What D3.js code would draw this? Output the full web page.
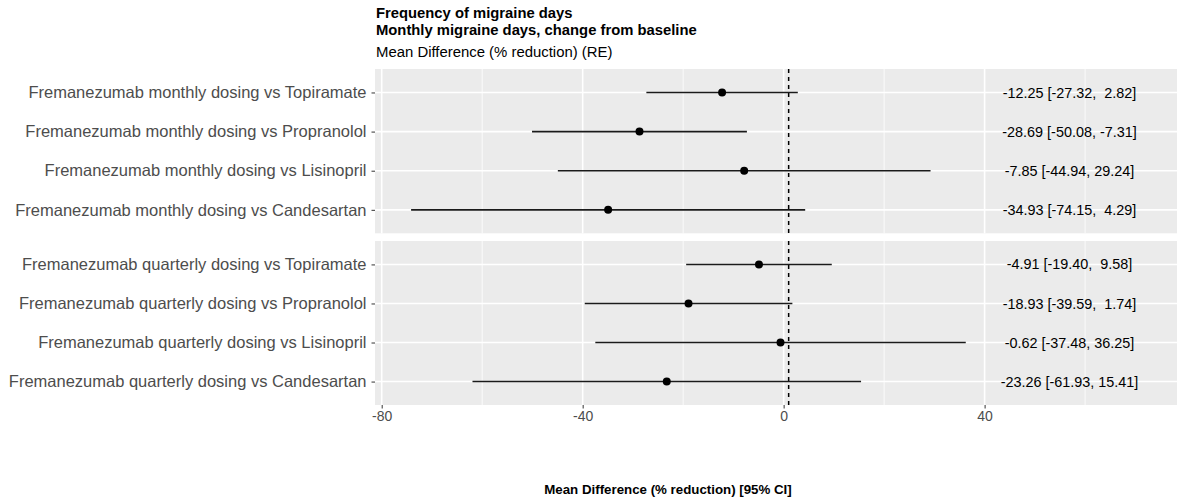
<!DOCTYPE html>
<html>
<head>
<meta charset="utf-8">
<script src="https://cdn.jsdelivr.net/npm/d3@7"></script>
<style>
	body { margin: 0; background: #fff; }
	svg { font-family: "Liberation Sans", Arial, sans-serif; }
</style>
</head>
<body>
<div id="chart"></div>
<script>
var dosing = ["monthly", "quarterly"];
var comparators = ["Topiramate", "Propranolol", "Lisinopril", "Candesartan"];

// one value per row, monthly rows first then quarterly
var meanDiff = [-12.25, -28.69, -7.85, -34.93, -4.91, -18.93, -0.62, -23.26];
var lower = [-27.32, -50.08, -44.94, -74.15, -19.40, -39.59, -37.48, -61.93];
var upper = [2.82, -7.31, 29.24, 4.29, 9.58, 1.74, 36.25, 15.41];

var xTicks = [-80, -40, 0, 40];
var xMinor = [-60, -20, 20, 60];
var refValue = 1;

var titles = ["Frequency of migraine days", "Monthly migraine days, change from baseline"];
var subtitle = "Mean Difference (% reduction) (RE)";
var xTitle = "Mean Difference (% reduction) [95% CI]";

var width = 1177,
	height = 502;

var svg = d3.select("#chart").append("svg")
	.attr("width", width)
	.attr("height", height);

var panelLeft = 375,
	panelRight = 1177;
var panels = [
	{ key: "monthly", top: 69, bottom: 233.3 },
	{ key: "quarterly", top: 241, bottom: 405 }
];

var xScale = d3.scaleLinear().domain([-80, 40]).range([381.7, 984.6]);
var textX = xScale(56.9);

// plain hyphen minus like R prints it
function fmt(v) { return v.toFixed(2); }

var rows = [];
dosing.forEach(function(dose, di) {
	comparators.forEach(function(comp, ci) {
		var i = di * comparators.length + ci;
		rows.push({
			dose: dose,
			label: "Fremanezumab " + dose + " dosing vs " + comp,
			mean: meanDiff[i],
			lo: lower[i],
			hi: upper[i],
			text: fmt(meanDiff[i]) + " [" + fmt(lower[i]) + ", " + fmt(upper[i]).padStart(5, " ") + "]"
		});
	});
});

// titles
svg.selectAll(".title")
	.data(titles)
	.enter()
	.append("text")
	.attr("class", "title")
	.attr("x", 376)
	.attr("y", function(d, i) { return 18 + i * 16.5; })
	.style("font-size", "14.8px")
	.style("font-weight", "bold")
	.text(function(d) { return d; });

svg.append("text")
	.attr("x", 376)
	.attr("y", 57)
	.style("font-size", "14.9px")
	.text(subtitle);

panels.forEach(function(p) {
	var pr = rows.filter(function(r) { return r.dose === p.key; });
	var yScale = d3.scalePoint()
		.domain(pr.map(function(r) { return r.label; }))
		.range([p.top, p.bottom])
		.padding(0.6);

	var g = svg.append("g");

	g.append("rect")
		.attr("x", panelLeft)
		.attr("y", p.top)
		.attr("width", panelRight - panelLeft)
		.attr("height", p.bottom - p.top)
		.attr("fill", "#ebebeb");

	g.selectAll(".minor")
		.data(xMinor)
		.enter()
		.append("line")
		.attr("x1", function(d) { return xScale(d); })
		.attr("x2", function(d) { return xScale(d); })
		.attr("y1", p.top)
		.attr("y2", p.bottom)
		.attr("stroke", "#fff")
		.attr("stroke-width", 0.8);

	g.selectAll(".major")
		.data(xTicks)
		.enter()
		.append("line")
		.attr("x1", function(d) { return xScale(d); })
		.attr("x2", function(d) { return xScale(d); })
		.attr("y1", p.top)
		.attr("y2", p.bottom)
		.attr("stroke", "#fff")
		.attr("stroke-width", 1.6);

	g.selectAll(".hgrid")
		.data(pr)
		.enter()
		.append("line")
		.attr("x1", panelLeft)
		.attr("x2", panelRight)
		.attr("y1", function(d) { return yScale(d.label); })
		.attr("y2", function(d) { return yScale(d.label); })
		.attr("stroke", "#fff")
		.attr("stroke-width", 1.6);

	// y axis, ggplot style
	var yAxis = d3.axisLeft(yScale).tickSize(3.5).tickPadding(5);
	var ya = g.append("g")
		.attr("transform", "translate(" + panelLeft + ",0)")
		.call(yAxis);
	ya.select(".domain").remove();
	ya.selectAll(".tick line").attr("stroke", "#333");
	ya.selectAll(".tick text")
		.attr("fill", "#4d4d4d")
		.style("font-size", "16.5px")
		.style("font-family", "Liberation Sans, Arial, sans-serif");

	g.append("line")
		.attr("x1", xScale(refValue))
		.attr("x2", xScale(refValue))
		.attr("y1", p.top)
		.attr("y2", p.bottom)
		.attr("stroke", "#000")
		.attr("stroke-width", 1.5)
		.attr("stroke-dasharray", "4,4");

	g.selectAll(".ci")
		.data(pr)
		.enter()
		.append("line")
		.attr("x1", function(d) { return xScale(d.lo); })
		.attr("x2", function(d) { return xScale(d.hi); })
		.attr("y1", function(d) { return yScale(d.label); })
		.attr("y2", function(d) { return yScale(d.label); })
		.attr("stroke", "#1a1a1a")
		.attr("stroke-width", 1.6);

	g.selectAll(".pt")
		.data(pr)
		.enter()
		.append("circle")
		.attr("cx", function(d) { return xScale(d.mean); })
		.attr("cy", function(d) { return yScale(d.label); })
		.attr("r", 4)
		.attr("fill", "#000");

	g.selectAll(".est")
		.data(pr)
		.enter()
		.append("text")
		.attr("x", textX)
		.attr("y", function(d) { return yScale(d.label); })
		.attr("dy", "0.35em")
		.attr("text-anchor", "middle")
		.style("font-size", "14.4px")
		.style("white-space", "pre")
		.text(function(d) { return d.text; });
});

var xAxis = d3.axisBottom(xScale)
	.tickValues(xTicks)
	.tickFormat(function(d) { return String(d); })
	.tickSize(3.5)
	.tickPadding(3);
var xa = svg.append("g")
	.attr("transform", "translate(0," + panels[1].bottom + ")")
	.call(xAxis);
xa.select(".domain").remove();
xa.selectAll(".tick line").attr("stroke", "#333");
xa.selectAll(".tick text")
	.attr("fill", "#4d4d4d")
	.style("font-size", "14px")
	.style("font-family", "Liberation Sans, Arial, sans-serif");

svg.append("text")
	.attr("x", 668)
	.attr("y", 494)
	.attr("text-anchor", "middle")
	.style("font-size", "13.3px")
	.style("font-weight", "bold")
	.text(xTitle);
</script>
</body>
</html>
